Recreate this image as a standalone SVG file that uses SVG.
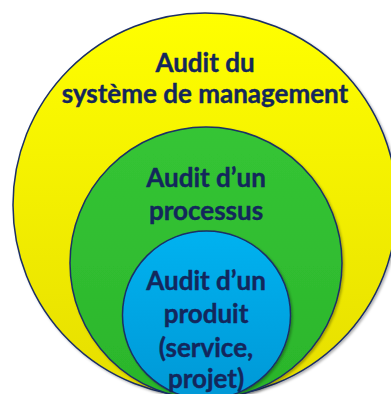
<svg xmlns="http://www.w3.org/2000/svg" width="391" height="394" viewBox="0 0 391 394">
<defs>
<linearGradient id="gy" x1="0" y1="0" x2="0" y2="1"><stop offset="0" stop-color="#FFFF00"/><stop offset="1" stop-color="#E6DE00"/></linearGradient>
<linearGradient id="gg" x1="0" y1="0" x2="0" y2="1"><stop offset="0" stop-color="#35C535"/><stop offset="1" stop-color="#2BB52B"/></linearGradient>
<linearGradient id="gb" x1="0" y1="0" x2="0" y2="1"><stop offset="0" stop-color="#00B2F0"/><stop offset="1" stop-color="#0098D6"/></linearGradient>
<filter id="sh" x="-10%" y="-10%" width="120%" height="120%"><feDropShadow dx="1.5" dy="1.5" stdDeviation="1.2" flood-color="#000" flood-opacity="0.3"/></filter>
</defs>
<style>
.c{stroke:#1B2F66;stroke-width:1.5;filter:url(#sh)}
.t{font-family:Lato,"Open Sans",sans-serif;font-weight:bold;font-size:26px;fill:#13275C;text-anchor:middle;stroke:#13275C;stroke-width:0.4}
</style>
<rect width="391" height="394" fill="#fff"/>
<g id="systeme">
<circle class="c" cx="205" cy="205" r="192" fill="url(#gy)"/>
<text class="t" x="205" y="72">Audit du</text>
<text class="t" x="205" y="103">système de management</text>
</g>
<g id="processus">
<circle class="c" cx="206" cy="263" r="136" fill="url(#gg)"/>
<text class="t" x="206" y="187">Audit d’un</text>
<text class="t" x="206" y="220">processus</text>
</g>
<g id="produit">
<circle class="c" cx="206.5" cy="315" r="84" fill="url(#gb)"/>
<text class="t" x="206" y="290">Audit d’un</text>
<text class="t" x="206" y="323">produit</text>
<text class="t" x="206" y="357">(service,</text>
<text class="t" x="206" y="388">projet)</text>
</g>
</svg>
